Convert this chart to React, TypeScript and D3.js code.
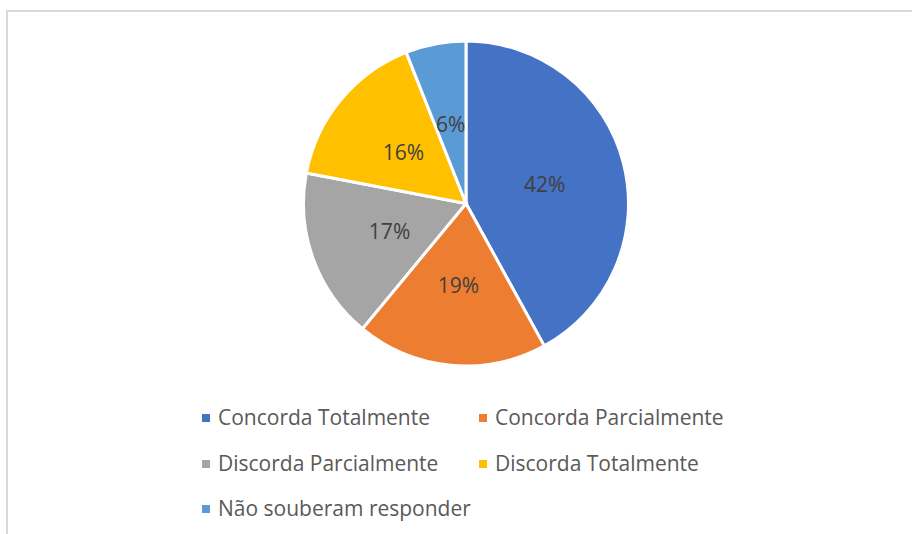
import React from "react";
import * as d3 from "d3";

const categories = ["Concorda Totalmente", "Concorda Parcialmente", "Discorda Parcialmente", "Discorda Totalmente", "Não souberam responder"];
const values = [42, 19, 17, 16, 6];
const colors = ["#4472C4", "#ED7D31", "#A5A5A5", "#FFC000", "#5B9BD5"];

const W = 912, H = 534;
const cx = 466, cy = 203.5, R = 162.5;
const FONT = "'Open Sans', sans-serif";

export default function App() {
  const pie = d3.pie<number>().sort(null).value((d) => d);
  const arcs = pie(values);
  const arc = d3.arc<d3.PieArcDatum<number>>().innerRadius(0).outerRadius(R);
  const labelArc = d3.arc<d3.PieArcDatum<number>>().innerRadius(R * 0.5).outerRadius(R * 0.5);
  const total = d3.sum(values);

  const legendX = [202, 479];
  const legendY = [418, 464, 509];

  return (
    <svg width={W} height={H} style={{ position: "absolute", left: 0, top: 0, background: "#fff" }}>
      <rect x={7} y={11} width={W + 20} height={H + 20} fill="#fff" stroke="#d9d9d9" strokeWidth={2} />
      <g transform={`translate(${cx},${cy})`}>
        {arcs.map((a, i) => (
          <path key={i} d={arc(a) || ""} fill={colors[i]} stroke="#fff" strokeWidth={3} />
        ))}
        {arcs.map((a, i) => {
          const [x, y] = labelArc.centroid(a);
          return (
            <text key={i} x={x} y={y + 1} dy="0.35em" textAnchor="middle" fontFamily={FONT} fontSize={21} fill="#404040">
              {Math.round((values[i] / total) * 100)}%
            </text>
          );
        })}
      </g>
      {categories.map((c, i) => {
        const col = i % 2, row = Math.floor(i / 2);
        const x = legendX[col], y = legendY[row];
        return (
          <g key={c}>
            <rect x={x} y={y - 4} width={8} height={8} fill={colors[i]} />
            <text x={x + 16} y={y} dy="0.35em" fontFamily={FONT} fontSize={21} fill="#595959">{c}</text>
          </g>
        );
      })}
    </svg>
  );
}
